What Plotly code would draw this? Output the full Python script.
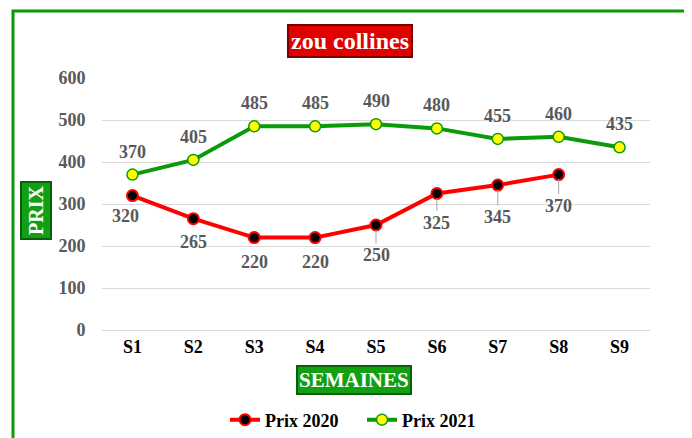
import plotly.graph_objects as go

semaines = ["S1", "S2", "S3", "S4", "S5", "S6", "S7", "S8", "S9"]
prix_2020 = [320, 265, 220, 220, 250, 325, 345, 370, None]
prix_2021 = [370, 405, 485, 485, 490, 480, 455, 460, 435]

# the page body has an 8px margin, so the figure is drawn 8px in
OFF = 8
W, H = 692 - OFF, 438 - OFF
L, T = 102 - OFF, 78 - OFF
R = W - (650 - OFF)
B = H - (330 - OFF)
pw, ph = W - L - R, H - T - B


def px(x):
    return (x - OFF - L) / pw


def py(y):
    return (H - B - (y - OFF)) / ph


serif = "Liberation Serif"
gray = "#595959"

fig = go.Figure()
fig.add_trace(go.Scatter(
    x=semaines, y=prix_2020, name="Prix 2020", mode="lines+markers",
    line=dict(color="#ff0000", width=4),
    marker=dict(size=11, color="black", line=dict(color="#ff0000", width=2)),
))
fig.add_trace(go.Scatter(
    x=semaines, y=prix_2021, name="Prix 2021", mode="lines+markers",
    line=dict(color="#0a9a0a", width=4),
    marker=dict(size=11, color="#ffff00", line=dict(color="#0a9a0a", width=1.5)),
))

# data labels
for s, v in zip(semaines, prix_2021):
    fig.add_annotation(x=s, y=v, text=str(v), showarrow=False, yshift=23,
                       font=dict(family=serif, size=18, color=gray, weight="bold"))

# label offsets below the 2020 points (Excel moved some, leader lines on those)
drop = [20, 23, 24, 24, 30, 29, 32, 31]
for i, (s, v) in enumerate(zip(semaines, prix_2020)):
    if v is None:
        continue
    leader = i >= 4
    fig.add_annotation(
        x=s, y=v, text=str(v), showarrow=True, arrowhead=0, arrowwidth=1,
        arrowcolor="#a6a6a6" if leader else "rgba(0,0,0,0)",
        ax=-7 if i == 0 else 0, ay=drop[i], standoff=5,
        font=dict(family=serif, size=18, color=gray, weight="bold"))

# title and axis titles in boxes
box = dict(xref="paper", yref="paper", showarrow=False,
           xanchor="center", yanchor="middle", borderwidth=2)
fig.add_annotation(x=px(350), y=py(41), text="<b>zou collines</b>",
                   font=dict(family=serif, size=24, color="white"),
                   bgcolor="#e00000", bordercolor="#7a0000", borderpad=2, **box)
fig.add_annotation(x=px(354), y=py(380), text="<b>SEMAINES</b>",
                   font=dict(family=serif, size=21, color="white"),
                   bgcolor="#12a012", bordercolor="#0b5f0b", borderpad=1, **box)
fig.add_annotation(x=px(36), y=py(211), text="<b>PRIX</b>", textangle=-90,
                   font=dict(family=serif, size=20, color="white"),
                   bgcolor="#12a012", bordercolor="#0b5f0b", borderpad=3, **box)

# outer green frame
fig.add_shape(type="rect", xref="paper", yref="paper",
              x0=px(13), x1=px(687), y0=py(450), y1=py(11),
              line=dict(color="#0a9a0a", width=3))

fig.update_layout(
    width=W, height=H,
    margin=dict(l=L, r=R, t=T, b=B, autoexpand=False),
    paper_bgcolor="white", plot_bgcolor="white",
    showlegend=True,
    legend=dict(orientation="h", xref="container", yref="container",
                x=(362 - OFF) / W, y=(H - (420 - OFF)) / H,
                xanchor="center", yanchor="middle", entrywidth=92,
                font=dict(family=serif, size=18, color="black", weight="bold")),
    xaxis=dict(range=[-0.5, 8.5],
               tickfont=dict(family=serif, size=18, color="black", weight="bold"),
               showgrid=False, showline=True, linecolor="#d9d9d9", ticks="",
               automargin=False),
    yaxis=dict(range=[0, 600], dtick=100, gridcolor="#d9d9d9",
               tickfont=dict(family=serif, size=18, color=gray, weight="bold"),
               zeroline=False, ticks="outside", tickcolor="white", ticklen=12,
               automargin=False),
)

fig.write_html("out.html")
